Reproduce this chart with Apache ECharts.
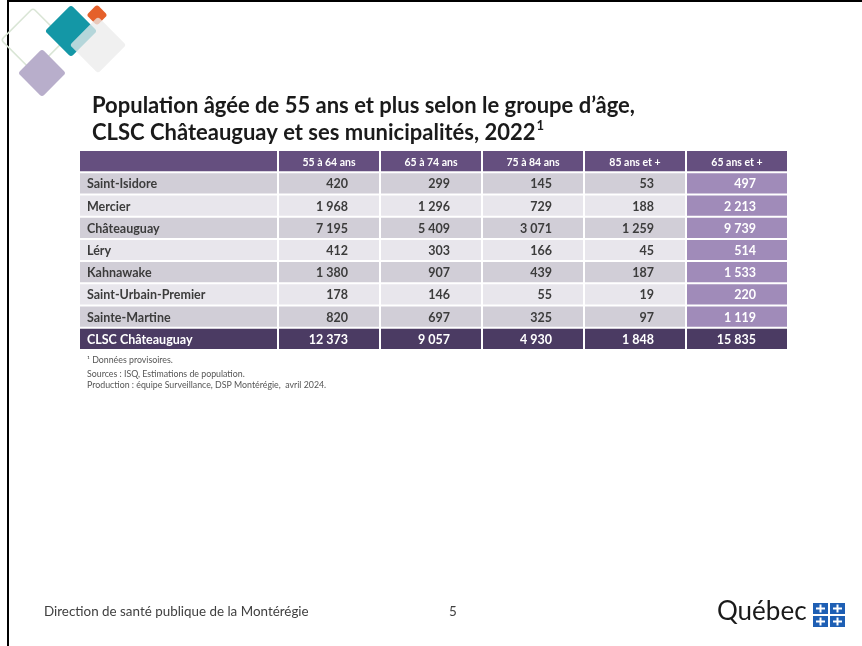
<!DOCTYPE html>
<html>
<head>
<meta charset="utf-8">
<script src="https://cdn.jsdelivr.net/npm/echarts@6/dist/echarts.min.js"></script>
<style>
  html, body { margin: 0; padding: 0; background: #fff; }
  #chart { width: 862px; height: 646px; }
</style>
</head>
<body>
<div id="chart"></div>
<script>
// données du tableau
var colonnes = ['55 à 64 ans', '65 à 74 ans', '75 à 84 ans', '85 ans et +', '65 ans et +'];
var territoires = ['Saint-Isidore', 'Mercier', 'Châteauguay', 'Léry', 'Kahnawake', 'Saint-Urbain-Premier', 'Sainte-Martine', 'CLSC Châteauguay'];
var ans55a64 = [420, 1968, 7195, 412, 1380, 178, 820, 12373];
var ans65a74 = [299, 1296, 5409, 303, 907, 146, 697, 9057];
var ans75a84 = [145, 729, 3071, 166, 439, 55, 325, 4930];
var ans85plus = [53, 188, 1259, 45, 187, 19, 97, 1848];
var ans65plus = [497, 2213, 9739, 514, 1533, 220, 1119, 15835];

var valeurs = [ans55a64, ans65a74, ans75a84, ans85plus, ans65plus];
var lignes = [''].concat(territoires); // ligne 0 = entête
var derniere = lignes.length - 1;

var FONT = 'Lato';
var mauve = '#654f7f', mauveFonce = '#4b3b63', lilas = '#a08bb9';
var grisFonce = '#d1ced7', grisPale = '#e8e6ec', texte = '#3c3c3c';

function fmt(n) {
  return String(n).replace(/\B(?=(\d{3})+(?!\d))/g, '\u00a0');
}

function fond(ligne, col) {
  if (ligne === 0) return mauve;
  if (ligne === derniere) return mauveFonce;
  if (col === 4) return lilas;
  return ligne % 2 === 1 ? grisFonce : grisPale;
}

// cellules : [colonne, ligne], le texte est relu par dataIndex
var cellNoms = lignes.map(function (t, i) { return [0, i]; });
var textesNoms = lignes.slice();
var cellVals = [], textesVals = [];
for (var j = 0; j < colonnes.length; j++) {
  for (var i = 0; i < lignes.length; i++) {
    cellVals.push([j, i]);
    textesVals.push(i === 0 ? colonnes[j] : fmt(valeurs[j][i - 1]));
  }
}

function cellule(params, api, col, libelle) {
  var x = api.value(0), ligne = api.value(1);
  var c = api.coord([x, ligne]);
  var s = api.size([1, 1]);
  var blanc = ligne === 0 || ligne === derniere || col === 4;
  var rect = { type: 'rect', shape: { x: c[0] - s[0] / 2 + 1, y: c[1] - s[1] / 2 + 1, width: s[0] - 2, height: s[1] - 2 },
    style: { fill: fond(ligne, col) } };
  var txt;
  if (col < 0) {
    txt = { type: 'text', style: { x: c[0] - s[0] / 2 + 8, y: c[1] + 1, text: libelle, align: 'left', verticalAlign: 'middle',
      font: 'bold 12.5px ' + FONT, fill: blanc ? '#fff' : texte } };
  } else if (ligne === 0) {
    txt = { type: 'text', style: { x: c[0], y: c[1] + 1, text: libelle, align: 'center', verticalAlign: 'middle',
      font: 'bold 10.5px ' + FONT, fill: '#fff' } };
  } else {
    txt = { type: 'text', style: { x: c[0] + 19, y: c[1] + 1, text: libelle, align: 'right', verticalAlign: 'middle',
      font: 'bold 12.5px ' + FONT, fill: blanc ? '#fff' : texte } };
  }
  return { type: 'group', children: [rect, txt] };
}

function losange(cx, cy, cote, style) {
  return { type: 'rect', x: cx, y: cy, rotation: Math.PI / 4,
    shape: { x: -cote / 2, y: -cote / 2, width: cote, height: cote, r: 3 }, style: style, silent: true };
}

var chart = echarts.init(document.getElementById('chart'), null, { renderer: 'canvas' });

var drapeau = [];
[[813, 603], [830, 603], [813, 616], [830, 616]].forEach(function (p) {
  drapeau.push({ type: 'rect', shape: { x: p[0], y: p[1], width: 15, height: 11 }, style: { fill: '#1e5fb4' } });
  drapeau.push({ type: 'rect', shape: { x: p[0] + 6.5, y: p[1] + 1.5, width: 2, height: 8 }, style: { fill: '#fff' } });
  drapeau.push({ type: 'rect', shape: { x: p[0] + 3, y: p[1] + 4.5, width: 9, height: 2 }, style: { fill: '#fff' } });
});

chart.setOption({
  backgroundColor: '#fff',
  animation: false,
  title: {
    text: 'Population âgée de 55 ans et plus selon le groupe d’âge,\nCLSC Châteauguay et ses municipalités, 2022{sup|1}',
    left: 92, top: 92, padding: 0,
    textStyle: { fontFamily: FONT, fontWeight: 'bold', fontSize: 22, color: '#1a1a1a', lineHeight: 27,
      rich: { sup: { fontFamily: FONT, fontWeight: 'bold', fontSize: 13, color: '#1a1a1a', verticalAlign: 'top', padding: [0, 0, 10, 1] } } }
  },
  grid: [
    { left: 79, top: 150, width: 199, height: 200 },
    { left: 278, top: 150, width: 510, height: 200 }
  ],
  xAxis: [
    { type: 'category', gridIndex: 0, data: ['Territoire'], show: false },
    { type: 'category', gridIndex: 1, data: colonnes, show: false }
  ],
  yAxis: [
    { type: 'category', gridIndex: 0, data: lignes, inverse: true, show: false },
    { type: 'category', gridIndex: 1, data: lignes, inverse: true, show: false }
  ],
  series: [
    { type: 'custom', xAxisIndex: 0, yAxisIndex: 0, data: cellNoms,
      renderItem: function (params, api) { return cellule(params, api, -1, textesNoms[params.dataIndex]); } },
    { type: 'custom', xAxisIndex: 1, yAxisIndex: 1, data: cellVals,
      renderItem: function (params, api) { return cellule(params, api, api.value(0), textesVals[params.dataIndex]); } }
  ],
  graphic: [
    // cadre
    { type: 'rect', shape: { x: 7, y: 0, width: 2, height: 646 }, style: { fill: '#000' } },
    { type: 'rect', shape: { x: 7, y: 0, width: 855, height: 2 }, style: { fill: '#000' } },
    // décor
    losange(33, 40, 45, { fill: 'none', stroke: '#d9e5d5', lineWidth: 1.5 }),
    losange(42, 73, 34, { fill: '#b8aecb' }),
    losange(71, 31, 37, { fill: '#1497a6' }),
    losange(97, 15, 15, { fill: '#e5602a' }),
    losange(98, 45, 40, { fill: 'rgba(235,235,235,0.75)' }),
    // notes
    { type: 'text', style: { x: 87, y: 356, text: '¹ Données provisoires.', font: '8.8px ' + FONT, fill: '#555' } },
    { type: 'text', style: { x: 87, y: 370, text: 'Sources : ISQ, Estimations de population.', font: '8.8px ' + FONT, fill: '#555' } },
    { type: 'text', style: { x: 87, y: 381, text: 'Production : équipe Surveillance, DSP Montérégie,  avril 2024.', font: '8.8px ' + FONT, fill: '#555' } },
    // pied de page
    { type: 'text', style: { x: 44, y: 605, text: 'Direction de santé publique de la Montérégie', font: '13.4px ' + FONT, fill: '#404040' } },
    { type: 'text', style: { x: 449, y: 605, text: '5', font: '13.4px ' + FONT, fill: '#404040' } },
    { type: 'text', style: { x: 717, y: 599, text: 'Québec', font: '26px ' + FONT, fill: '#1a1a1a' } }
  ].concat(drapeau)
});
</script>
</body>
</html>
